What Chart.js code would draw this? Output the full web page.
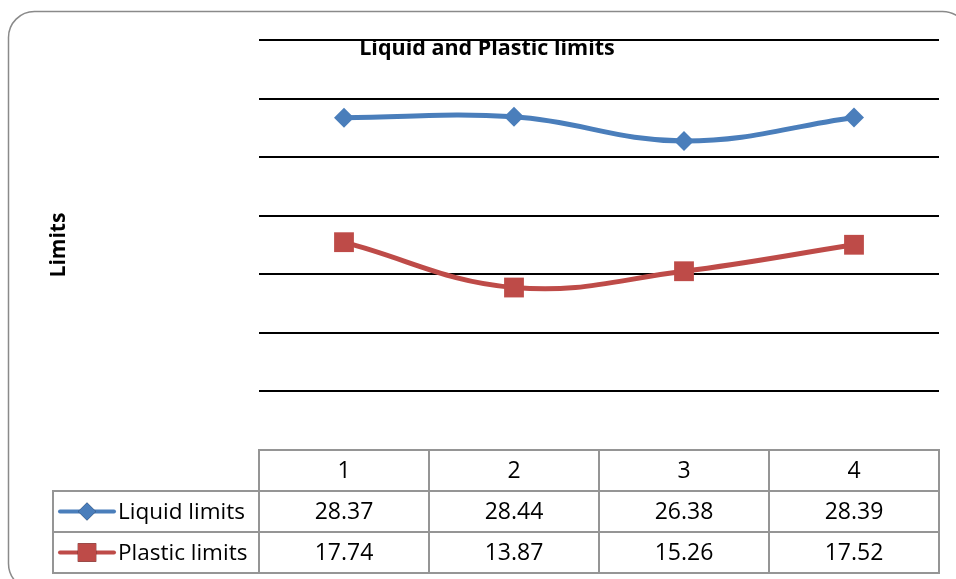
<!DOCTYPE html>
<html>
<head>
<meta charset="utf-8">
<title>Liquid and Plastic limits</title>
<script src="https://cdn.jsdelivr.net/npm/chart.js@4"></script>
<style>
  html, body { margin: 0; padding: 0; background: #ffffff; }
  #wrap { position: relative; width: 956px; height: 579px; }
  canvas { display: block; }
</style>
</head>
<body>
<div id="wrap"><canvas id="chart" width="956" height="579"></canvas></div>
<script>
// Sample numbers along the x axis
const categories = ['1', '2', '3', '4'];
// Atterberg limits per sample
const liquidLimits = [28.37, 28.44, 26.38, 28.39];
const plasticLimits = [17.74, 13.87, 15.26, 17.52];
const seriesNames = ['Liquid limits', 'Plastic limits'];
// Value axis range and gridline step
const yMin = 0;
const yMax = 35;
const yStep = 5;

const BLUE = '#4a7ebb';
const RED = '#be4b48';
const TABLE_LINE = '#959595';
const FONT = '"Open Sans", "Liberation Sans", sans-serif';

// Rounded frame around the whole chart
const framePlugin = {
  id: 'frame',
  beforeDraw(chart) {
    const ctx = chart.ctx;
    ctx.save();
    ctx.fillStyle = '#ffffff';
    ctx.fillRect(0, 0, chart.width, chart.height);
    ctx.strokeStyle = '#8a8a8a';
    ctx.lineWidth = 1.5;
    ctx.beginPath();
    ctx.roundRect(8.5, 11.5, 960, 578, 26);
    ctx.stroke();
    ctx.restore();
  }
};

// Chart heading, drawn over the plot area
const headingPlugin = {
  id: 'heading',
  afterDraw(chart) {
    const ctx = chart.ctx;
    ctx.save();
    ctx.font = 'bold 21.5px ' + FONT;
    ctx.fillStyle = '#000000';
    ctx.textAlign = 'center';
    ctx.textBaseline = 'middle';
    ctx.fillText('Liquid and Plastic limits', 487, 49);
    ctx.restore();
  }
};

function drawLegendKey(ctx, x1, x2, y, color, style) {
  ctx.save();
  ctx.strokeStyle = color;
  ctx.lineWidth = 4;
  ctx.lineCap = 'round';
  ctx.beginPath();
  ctx.moveTo(x1, y);
  ctx.lineTo(x2, y);
  ctx.stroke();
  Chart.helpers.drawPoint(ctx, { pointStyle: style, rotation: 0, borderWidth: 0,
    radius: style === 'rect' ? 13 : 9 }, (x1 + x2) / 2, y);
  ctx.fillStyle = color;
  ctx.fill();
  ctx.restore();
}

// Data table under the plot, aligned to the category columns
const dataTablePlugin = {
  id: 'dataTable',
  afterDraw(chart) {
    const ctx = chart.ctx;
    const xs = chart.scales.x;
    const area = chart.chartArea;
    const n = categories.length;
    const colW = (area.right - area.left) / n;
    const top = area.bottom;
    const rowH = 41;
    const legendLeft = 53;
    const rows = [liquidLimits, plasticLimits];

    ctx.save();
    ctx.strokeStyle = TABLE_LINE;
    ctx.lineWidth = 2;
    // header row (category labels)
    ctx.strokeRect(area.left, top, area.right - area.left, rowH);
    // series rows incl. legend column
    for (let r = 0; r < rows.length; r++) {
      const y = top + rowH * (r + 1);
      ctx.strokeRect(legendLeft, y, area.right - legendLeft, rowH);
    }
    // column separators
    ctx.beginPath();
    for (let i = 0; i <= n; i++) {
      const x = area.left + colW * i;
      ctx.moveTo(x, top);
      ctx.lineTo(x, top + rowH * (rows.length + 1));
    }
    ctx.stroke();

    ctx.fillStyle = '#000000';
    ctx.font = '23px ' + FONT;
    ctx.textAlign = 'center';
    ctx.textBaseline = 'middle';
    categories.forEach((c, i) => {
      const cx = xs.getPixelForValue(i);
      ctx.fillText(c, cx, top + rowH / 2 + 1);
      rows.forEach((vals, r) => {
        ctx.fillText(vals[i].toFixed(2), cx, top + rowH * (r + 1.5) + 1);
      });
    });

    // legend keys and names
    const keys = [
      { color: BLUE, style: 'rectRot' },
      { color: RED, style: 'rect' }
    ];
    keys.forEach((k, r) => {
      const y = top + rowH * (r + 1.5);
      drawLegendKey(ctx, 60, 114, y, k.color, k.style);
      ctx.fillStyle = '#000000';
      ctx.textAlign = 'left';
      ctx.font = '22.5px ' + FONT;
      ctx.fillText(seriesNames[r], 118, y + 1);
    });
    ctx.restore();
  }
};

new Chart(document.getElementById('chart'), {
  type: 'line',
  data: {
    labels: categories,
    datasets: [
      {
        label: seriesNames[0],
        data: liquidLimits,
        borderColor: BLUE,
        backgroundColor: BLUE,
        borderWidth: 5,
        pointStyle: 'rectRot',
        pointRadius: 10,
        pointBorderWidth: 0,
        tension: 0.4
      },
      {
        label: seriesNames[1],
        data: plasticLimits,
        borderColor: RED,
        backgroundColor: RED,
        borderWidth: 5,
        pointStyle: 'rect',
        pointRadius: 14,
        pointBorderWidth: 0,
        tension: 0.4
      }
    ]
  },
  options: {
    responsive: false,
    animation: false,
    layout: { padding: { left: 42, top: 40, right: 17, bottom: 129 } },
    plugins: {
      legend: { display: false },
      title: { display: false },
      tooltip: { enabled: false }
    },
    scales: {
      x: { display: false, offset: true },
      y: {
        min: yMin,
        max: yMax,
        afterFit(scale) { scale.width = 217; },
        ticks: { display: false, stepSize: yStep },
        border: { display: false },
        grid: {
          drawTicks: false,
          lineWidth: 2,
          color: (c) => (c.tick && c.tick.value === yMin ? 'rgba(0,0,0,0)' : '#000000')
        },
        title: {
          display: true,
          text: 'Limits',
          color: '#000000',
          font: { family: FONT, size: 21, weight: 'bold' },
          padding: { top: 4, bottom: 0 }
        }
      }
    }
  },
  plugins: [framePlugin, headingPlugin, dataTablePlugin]
});
</script>
</body>
</html>
